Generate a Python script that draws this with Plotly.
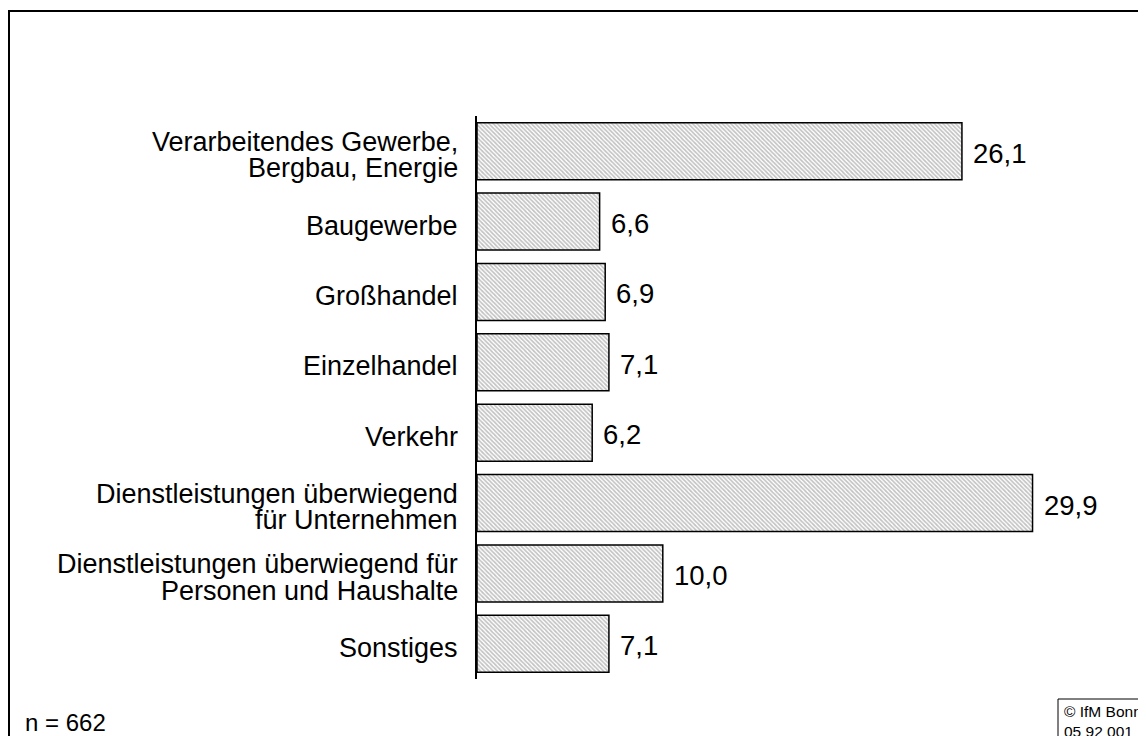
import plotly.graph_objects as go

categories = [
    "Verarbeitendes Gewerbe,<br>Bergbau, Energie",
    "Baugewerbe",
    "Großhandel",
    "Einzelhandel",
    "Verkehr",
    "Dienstleistungen überwiegend<br>für Unternehmen",
    "Dienstleistungen überwiegend für<br>Personen und Haushalte",
    "Sonstiges",
]
values = [26.1, 6.6, 6.9, 7.1, 6.2, 29.9, 10.0, 7.1]
value_labels = ["26,1", "6,6", "6,9", "7,1", "6,2", "29,9", "10,0", "7,1"]

W, H = 1146, 736
L, R, T, B = 469, 60, 108, 65
pw, ph = W - L - R, H - T - B
px_per_unit = 18.58
xmax = pw / px_per_unit

FONT = "Liberation Sans, Arial, sans-serif"
FS = 27
VFS = 27.5
LINE = 26.5
idx = list(range(len(categories)))

fig = go.Figure()
fig.add_trace(go.Bar(
    x=values, y=idx, orientation="h", width=0.81,
    marker=dict(
        color="white",
        line=dict(color="black", width=1.5),
        pattern=dict(shape="\\", size=3, solidity=0.55, fgcolor="#858585", bgcolor="white"),
    ),
    hoverinfo="skip",
))

# value labels
for v, t, i in zip(values, value_labels, idx):
    fig.add_annotation(x=v, y=i, text=t, xref="x", yref="y", xanchor="left",
                       yanchor="middle", showarrow=False, xshift=9, yshift=-2,
                       font=dict(size=VFS, color="black", family=FONT))

# category labels (each line placed separately for tight line spacing)
for cat, i in zip(categories, idx):
    lines = cat.split("<br>")
    n = len(lines)
    for k, ln in enumerate(lines):
        off = ((n - 1) / 2 - k) * LINE
        fig.add_annotation(x=0, y=i, text=ln, xref="x", yref="y", xanchor="right",
                           yanchor="middle", showarrow=False, xshift=-17, yshift=off - 4,
                           font=dict(size=FS, color="black", family=FONT))

def px_x(p):
    return (p - L) / pw

def px_y(p):
    return (H - B - p) / ph

# outer frame
fig.add_shape(type="rect", xref="paper", yref="paper",
              x0=px_x(1), x1=px_x(W + 20), y0=px_y(H + 20), y1=px_y(3),
              line=dict(color="black", width=2), fillcolor="rgba(0,0,0,0)", layer="below")
# copyright box
fig.add_shape(type="rect", xref="paper", yref="paper",
              x0=px_x(1050), x1=px_x(W + 20), y0=px_y(H + 20), y1=px_y(691),
              line=dict(color="black", width=1), fillcolor="white")
fig.add_annotation(xref="paper", yref="paper", x=px_x(1054), y=px_y(693),
                   xanchor="left", yanchor="top", align="left", showarrow=False,
                   text="© IfM Bonn<br>05 92 001", font=dict(size=15.5, color="black", family=FONT))
fig.add_annotation(xref="paper", yref="paper", x=px_x(15), y=px_y(714),
                   xanchor="left", yanchor="middle", showarrow=False,
                   text="n = 662", font=dict(size=24, color="black", family=FONT))

fig.update_layout(
    width=W, height=H,
    margin=dict(l=L, r=R, t=T, b=B),
    paper_bgcolor="white", plot_bgcolor="white",
    showlegend=False,
    font=dict(family=FONT, size=FS, color="black"),
    xaxis=dict(range=[0, xmax], visible=False, fixedrange=True),
    yaxis=dict(
        range=[len(categories) - 0.5, -0.5],
        tickvals=idx, ticktext=categories, showticklabels=False,
        showline=True, linecolor="black", linewidth=1.5,
        showgrid=False, zeroline=False, ticks="",
    ),
)

fig.write_html("out.html")
